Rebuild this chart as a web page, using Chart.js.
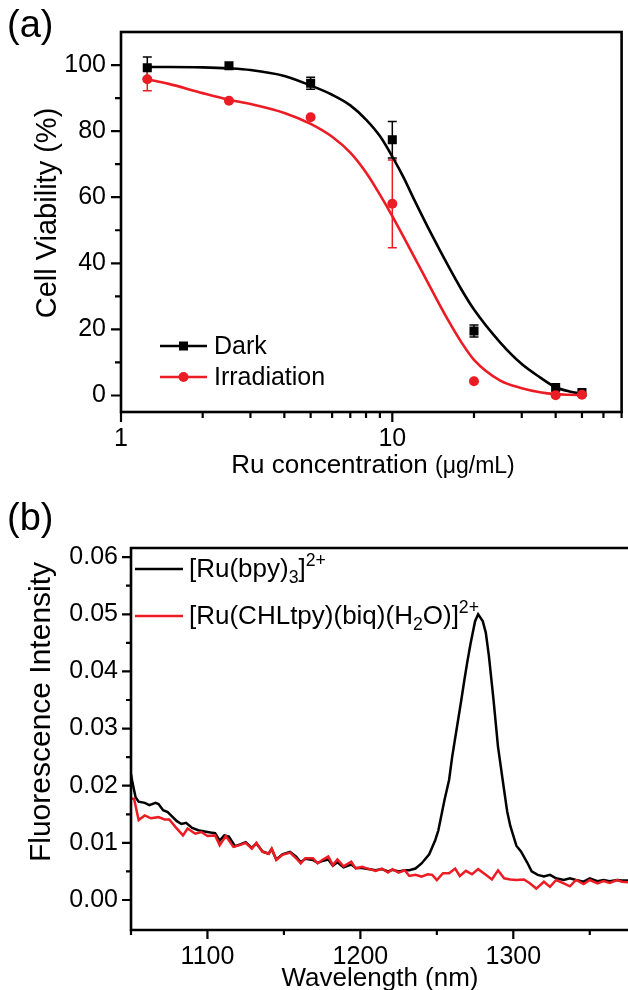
<!DOCTYPE html>
<html>
<head>
<meta charset="utf-8">
<script src="https://cdn.jsdelivr.net/npm/chart.js@4.4.1/dist/chart.umd.min.js"></script>
<style>
  html, body { margin: 0; padding: 0; background: #fff; }
  #wrap { position: relative; width: 628px; height: 990px; overflow: hidden; }
  canvas { position: absolute; left: 0; }
  #cellChart { top: 0; }
  #fluoChart { top: 490px; }
</style>
</head>
<body>
<div id="wrap">
  <canvas id="cellChart" width="628" height="490"></canvas>
  <canvas id="fluoChart" width="628" height="500"></canvas>
</div>
<script>
// ---- panel (a): cell viability ----
const conc = [1.25, 2.5, 5, 10, 20, 40, 50];
const darkViab = [99.2, 99.8, 94.5, 77.4, 19.5, 2.4, 0.9];
const darkErr = [3.2, 0, 1.8, 5.5, 1.8, 0, 0];
const irrViab = [95.7, 89.2, 84.2, 58.0, 4.3, 0.1, 0.2];
const irrErr = [3.5, 0, 0, 13.3, 0, 0, 0];

// fitted curves
const fitConc = [1.25, 1.5, 2, 2.5, 3, 4, 5, 6, 7, 8, 9, 10, 11, 12, 14, 16, 18, 20, 25, 30, 35, 40, 45, 50];
const darkFit = [99.4, 99.4, 99.3, 99.0, 98.5, 96.7, 93.8, 91.0, 87.8, 83.5, 78.5, 72.3, 66.0, 59.5, 48.5, 39.5, 32.0, 26.0, 16.0, 9.5, 5.5, 2.5, 1.2, 0.5];
const irrFit = [95.7, 94.3, 91.5, 89.5, 88.2, 85.5, 82.2, 78.3, 73.5, 67.5, 60.8, 54.3, 48.0, 42.2, 31.8, 23.0, 16.0, 10.8, 4.5, 2.2, 1.0, 0.4, 0.2, 0.1];

const viabTicks = [0, 20, 40, 60, 80, 100];
const viabMinor = [10, 30, 50, 70, 90];
const concTicks = [1, 10];
const concMinor = [2, 3, 4, 5, 6, 7, 8, 9, 20, 30, 40, 50, 60, 70];

// ---- panel (b): fluorescence ----
const redWl = [1050, 1052, 1055, 1059, 1063, 1068, 1072, 1075, 1079, 1084, 1087, 1092, 1096, 1100, 1105, 1108, 1112, 1117, 1121, 1125,
  1129, 1132, 1136, 1140, 1142, 1145, 1149, 1154, 1158, 1161, 1164, 1169, 1172, 1175, 1179, 1182, 1185, 1189, 1194, 1197,
  1201, 1206, 1210, 1214, 1218, 1221, 1225, 1229, 1232, 1236, 1240, 1244, 1247, 1250, 1254, 1258, 1262, 1265, 1269, 1273,
  1277, 1282, 1286, 1290, 1294, 1298, 1302, 1307, 1311, 1315, 1320, 1324, 1328, 1333, 1337, 1341, 1346, 1350, 1355, 1359,
  1363, 1368, 1371, 1375];
const redVal = [0.0177, 0.0177, 0.0140, 0.0148, 0.0143, 0.0145, 0.0141, 0.0141, 0.0128, 0.0113, 0.0125, 0.0116, 0.0119, 0.0112, 0.0113, 0.0096, 0.0112, 0.0093, 0.0096, 0.0100,
  0.0090, 0.0100, 0.0084, 0.0081, 0.0090, 0.0070, 0.0079, 0.0083, 0.0073, 0.0064, 0.0073, 0.0073, 0.0064, 0.0070, 0.0076, 0.0061, 0.0071, 0.0059, 0.0067, 0.0055,
  0.0058, 0.0054, 0.0051, 0.0055, 0.0048, 0.0054, 0.0048, 0.0052, 0.0042, 0.0044, 0.0041, 0.0045, 0.0044, 0.0035, 0.0047, 0.0047, 0.0055, 0.0042, 0.0051, 0.0045,
  0.0054, 0.0044, 0.0036, 0.0052, 0.0038, 0.0036, 0.0035, 0.0036, 0.0029, 0.0020, 0.0032, 0.0023, 0.0035, 0.0029, 0.0024, 0.0035, 0.0028, 0.0035, 0.0029, 0.0033,
  0.0030, 0.0035, 0.0032, 0.0031];

const blackWl = [1050, 1051, 1053, 1055, 1059, 1062, 1066, 1068, 1071, 1074, 1077, 1080, 1083, 1086, 1090, 1094, 1098, 1102, 1105, 1108,
  1111, 1114, 1118, 1121, 1125, 1129, 1132, 1136, 1140, 1142, 1145, 1149, 1154, 1158, 1161, 1164, 1169, 1172, 1175, 1179,
  1182, 1185, 1189, 1194, 1197, 1201, 1206, 1210, 1214, 1218, 1221, 1225, 1229, 1232, 1236, 1240, 1245, 1249, 1251, 1255,
  1258, 1260, 1263, 1266, 1268, 1270, 1272, 1275, 1277, 1280, 1282, 1284, 1287, 1290, 1294, 1296, 1298, 1302, 1305, 1309,
  1312, 1316, 1320, 1324, 1328, 1333, 1337, 1341, 1346, 1350, 1355, 1359, 1363, 1368, 1371, 1375];
const blackVal = [0.0220, 0.0205, 0.0180, 0.0172, 0.0170, 0.0166, 0.0170, 0.0168, 0.0157, 0.0154, 0.0146, 0.0138, 0.0133, 0.0135, 0.0126, 0.0122, 0.0120, 0.0118, 0.0117, 0.0104,
  0.0113, 0.0111, 0.0094, 0.0097, 0.0101, 0.0091, 0.0099, 0.0085, 0.0081, 0.0089, 0.0071, 0.0080, 0.0084, 0.0076, 0.0066, 0.0072, 0.0070, 0.0065, 0.0068, 0.0071,
  0.0060, 0.0066, 0.0057, 0.0062, 0.0056, 0.0056, 0.0054, 0.0052, 0.0054, 0.0050, 0.0053, 0.0050, 0.0052, 0.0052, 0.0055, 0.0064, 0.0080, 0.0105, 0.0122, 0.0175,
  0.0210, 0.0250, 0.0300, 0.0350, 0.0385, 0.0418, 0.0448, 0.0488, 0.0500, 0.0488, 0.0468, 0.0428, 0.0352, 0.0268, 0.0192, 0.0155, 0.0130, 0.0095, 0.0085, 0.0066,
  0.0050, 0.0044, 0.0041, 0.0044, 0.0038, 0.0035, 0.0038, 0.0035, 0.0032, 0.0038, 0.0033, 0.0035, 0.0033, 0.0035, 0.0034, 0.0034];

const fluoTicks = [0, 0.01, 0.02, 0.03, 0.04, 0.05, 0.06];
const fluoMinor = [0.005, 0.015, 0.025, 0.035, 0.045, 0.055];
const wlTicks = [1100, 1200, 1300];
const wlMinor = [1050, 1150, 1250, 1350];

const FONT = '"Liberation Sans", Arial, sans-serif';
const RED = "#ec1c24";

const zip = (xs, ys) => xs.map((x, i) => ({ x: x, y: ys[i] }));

function drawTicks(ctx, chart, axis, values, len) {
  const a = chart.chartArea;
  const s = chart.scales[axis];
  ctx.beginPath();
  values.forEach((v) => {
    const p = s.getPixelForValue(v);
    if (axis === "x") {
      ctx.moveTo(p, a.bottom);
      ctx.lineTo(p, a.bottom + len);
    } else {
      ctx.moveTo(a.left, p);
      ctx.lineTo(a.left - len, p);
    }
  });
  ctx.stroke();
}

function drawErrors(ctx, chart, xs, ys, errs, color) {
  const sx = chart.scales.x, sy = chart.scales.y;
  ctx.strokeStyle = color;
  ctx.lineWidth = 1.5;
  ctx.beginPath();
  xs.forEach((v, i) => {
    if (!errs[i]) return;
    const px = sx.getPixelForValue(v);
    const top = sy.getPixelForValue(ys[i] + errs[i]);
    const bot = sy.getPixelForValue(ys[i] - errs[i]);
    ctx.moveTo(px, top); ctx.lineTo(px, bot);
    ctx.moveTo(px - 4.5, top); ctx.lineTo(px + 4.5, top);
    ctx.moveTo(px - 4.5, bot); ctx.lineTo(px + 4.5, bot);
  });
  ctx.stroke();
}

// text with sub/superscripts: parts = [[text, mode]] mode 0 normal, 1 sub, -1 sup
function drawRich(ctx, parts, x, y, size) {
  parts.forEach(([t, m]) => {
    const s = m ? size * 0.68 : size;
    ctx.font = s + "px " + FONT;
    const dy = m === 1 ? size * 0.32 : m === -1 ? -size * 0.36 : 0;
    ctx.fillText(t, x, y + dy);
    x += ctx.measureText(t).width;
  });
}

const cellDecor = {
  id: "cellDecor",
  beforeDatasetsDraw(chart) {
    const ctx = chart.ctx;
    ctx.save();
    drawErrors(ctx, chart, conc, darkViab, darkErr, "#000");
    drawErrors(ctx, chart, conc, irrViab, irrErr, RED);
    ctx.restore();
  },
  afterDraw(chart) {
    const ctx = chart.ctx;
    const a = chart.chartArea;
    ctx.save();
    ctx.strokeStyle = "#000";
    ctx.lineWidth = 2.6;
    ctx.strokeRect(a.left, a.top, a.right - a.left, a.bottom - a.top);
    ctx.lineWidth = 2.2;
    drawTicks(ctx, chart, "y", viabTicks, 10);
    drawTicks(ctx, chart, "y", viabMinor, 6);
    drawTicks(ctx, chart, "x", concTicks, 10);
    drawTicks(ctx, chart, "x", concMinor, 6);

    // legend
    ctx.lineWidth = 2.5;
    ctx.strokeStyle = "#000";
    ctx.beginPath(); ctx.moveTo(160, 346); ctx.lineTo(207, 346); ctx.stroke();
    ctx.fillStyle = "#000";
    ctx.fillRect(179, 341.5, 9, 9);
    ctx.strokeStyle = RED;
    ctx.beginPath(); ctx.moveTo(160, 377); ctx.lineTo(207, 377); ctx.stroke();
    ctx.fillStyle = RED;
    ctx.beginPath(); ctx.arc(183.5, 377, 5, 0, Math.PI * 2); ctx.fill();
    ctx.fillStyle = "#000";
    ctx.textBaseline = "middle";
    ctx.textAlign = "left";
    ctx.font = "25px " + FONT;
    ctx.fillText("Dark", 214, 347);
    ctx.fillText("Irradiation", 214, 378);

    // panel label and axis titles
    ctx.font = "38px " + FONT;
    ctx.fillText("(a)", 7, 27);
    const t1 = "Ru concentration ", t2 = "(\u03bcg/mL)";
    ctx.font = "26px " + FONT;
    const w1 = ctx.measureText(t1).width;
    ctx.font = "23px " + FONT;
    const w2 = ctx.measureText(t2).width;
    let x0 = 373 - (w1 + w2) / 2;
    ctx.font = "26px " + FONT;
    ctx.fillText(t1, x0, 466);
    ctx.font = "23px " + FONT;
    ctx.fillText(t2, x0 + w1, 467);
    ctx.translate(48, 213);
    ctx.rotate(-Math.PI / 2);
    ctx.textAlign = "center";
    ctx.font = "29px " + FONT;
    ctx.fillText("Cell Viability (%)", 0, 0);
    ctx.restore();
  },
};

const fluoDecor = {
  id: "fluoDecor",
  afterDraw(chart) {
    const ctx = chart.ctx;
    const a = chart.chartArea;
    ctx.save();
    ctx.strokeStyle = "#000";
    ctx.lineWidth = 2.6;
    ctx.beginPath();
    ctx.moveTo(a.right + 2, a.top);
    ctx.lineTo(a.left, a.top);
    ctx.lineTo(a.left, a.bottom);
    ctx.lineTo(a.right + 2, a.bottom);
    ctx.stroke();
    ctx.lineWidth = 2.2;
    drawTicks(ctx, chart, "y", fluoTicks, 9);
    drawTicks(ctx, chart, "y", fluoMinor, 5);
    drawTicks(ctx, chart, "x", wlTicks, 9);
    drawTicks(ctx, chart, "x", wlMinor, 5);

    // legend
    ctx.lineWidth = 2.5;
    ctx.strokeStyle = "#000";
    ctx.beginPath(); ctx.moveTo(135, 79); ctx.lineTo(183, 79); ctx.stroke();
    ctx.strokeStyle = RED;
    ctx.beginPath(); ctx.moveTo(135, 126); ctx.lineTo(183, 126); ctx.stroke();
    ctx.fillStyle = "#000";
    ctx.textBaseline = "middle";
    ctx.textAlign = "left";
    drawRich(ctx, [["[Ru(bpy)", 0], ["3", 1], ["]", 0], ["2+", -1]], 189, 80, 26);
    drawRich(ctx, [["[Ru(CHLtpy)(biq)(H", 0], ["2", 1], ["O)]", 0], ["2+", -1]], 189, 127, 26);

    ctx.font = "38px " + FONT;
    ctx.fillText("(b)", 7, 30);
    ctx.textAlign = "center";
    ctx.font = "26px " + FONT;
    ctx.fillText("Wavelength (nm)", 380, 489);
    ctx.translate(42, 222);
    ctx.rotate(-Math.PI / 2);
    ctx.font = "30px " + FONT;
    ctx.fillText("Fluorescence Intensity", 0, 0);
    ctx.restore();
  },
};

const tickFont = { family: FONT, size: 25 };

new Chart(document.getElementById("cellChart"), {
  type: "line",
  data: {
    datasets: [
      {
        label: "Irradiation",
        data: zip(conc, irrViab),
        showLine: false,
        pointStyle: "circle",
        pointRadius: 5,
        pointBackgroundColor: RED,
        pointBorderWidth: 0,
        order: 0,
      },
      {
        label: "Dark",
        data: zip(conc, darkViab),
        showLine: false,
        pointStyle: "rect",
        pointRadius: 6.4,
        pointBackgroundColor: "#000",
        pointBorderWidth: 0,
        order: 1,
      },
      {
        label: "Irradiation fit",
        data: zip(fitConc, irrFit),
        borderColor: RED,
        borderWidth: 2.6,
        pointRadius: 0,
        cubicInterpolationMode: "monotone",
        order: 2,
      },
      {
        label: "Dark fit",
        data: zip(fitConc, darkFit),
        borderColor: "#000",
        borderWidth: 2.6,
        pointRadius: 0,
        cubicInterpolationMode: "monotone",
        order: 3,
      },
    ],
  },
  options: {
    responsive: false,
    animation: false,
    devicePixelRatio: 1,
    layout: { padding: { top: 32, right: 4, left: 0, bottom: 0 } },
    plugins: { legend: { display: false }, tooltip: { enabled: false } },
    scales: {
      x: {
        type: "logarithmic",
        min: 1,
        max: 70,
        grid: { display: false, drawTicks: false },
        border: { display: false },
        afterBuildTicks: (s) => { s.ticks = concTicks.map((v) => ({ value: v })); },
        afterFit: (s) => { s.height = 78; },
        ticks: {
          font: tickFont, color: "#000", padding: 12, autoSkip: false, maxRotation: 0,
          callback: (v) => String(v),
        },
      },
      y: {
        min: -5,
        max: 110,
        grid: { display: false, drawTicks: false },
        border: { display: false },
        afterBuildTicks: (s) => { s.ticks = viabTicks.map((v) => ({ value: v })); },
        afterFit: (s) => { s.width = 121; },
        ticks: { font: tickFont, color: "#000", padding: 15 },
      },
    },
  },
  plugins: [cellDecor],
});

new Chart(document.getElementById("fluoChart"), {
  type: "line",
  data: {
    datasets: [
      {
        label: "[Ru(CHLtpy)(biq)(H2O)]2+",
        data: zip(redWl, redVal),
        borderColor: RED,
        borderWidth: 2.5,
        pointRadius: 0,
        order: 0,
      },
      {
        label: "[Ru(bpy)3]2+",
        data: zip(blackWl, blackVal),
        borderColor: "#000",
        borderWidth: 2.5,
        pointRadius: 0,
        order: 1,
      },
    ],
  },
  options: {
    responsive: false,
    animation: false,
    devicePixelRatio: 1,
    layout: { padding: { top: 58, right: 0, left: 0, bottom: 0 } },
    plugins: { legend: { display: false }, tooltip: { enabled: false } },
    scales: {
      x: {
        type: "linear",
        min: 1050,
        max: 1375,
        grid: { display: false, drawTicks: false },
        border: { display: false },
        afterBuildTicks: (s) => { s.ticks = wlTicks.map((v) => ({ value: v })); },
        afterFit: (s) => { s.height = 60; },
        ticks: { font: tickFont, color: "#000", padding: 12, autoSkip: false, maxRotation: 0,
          callback: (v) => String(v) },
      },
      y: {
        min: -0.00525,
        max: 0.0616,
        grid: { display: false, drawTicks: false },
        border: { display: false },
        afterBuildTicks: (s) => { s.ticks = fluoTicks.map((v) => ({ value: v })); },
        afterFit: (s) => { s.width = 131; },
        ticks: { font: tickFont, color: "#000", padding: 13, callback: (v) => v.toFixed(2) },
      },
    },
  },
  plugins: [fluoDecor],
});
</script>
</body>
</html>
